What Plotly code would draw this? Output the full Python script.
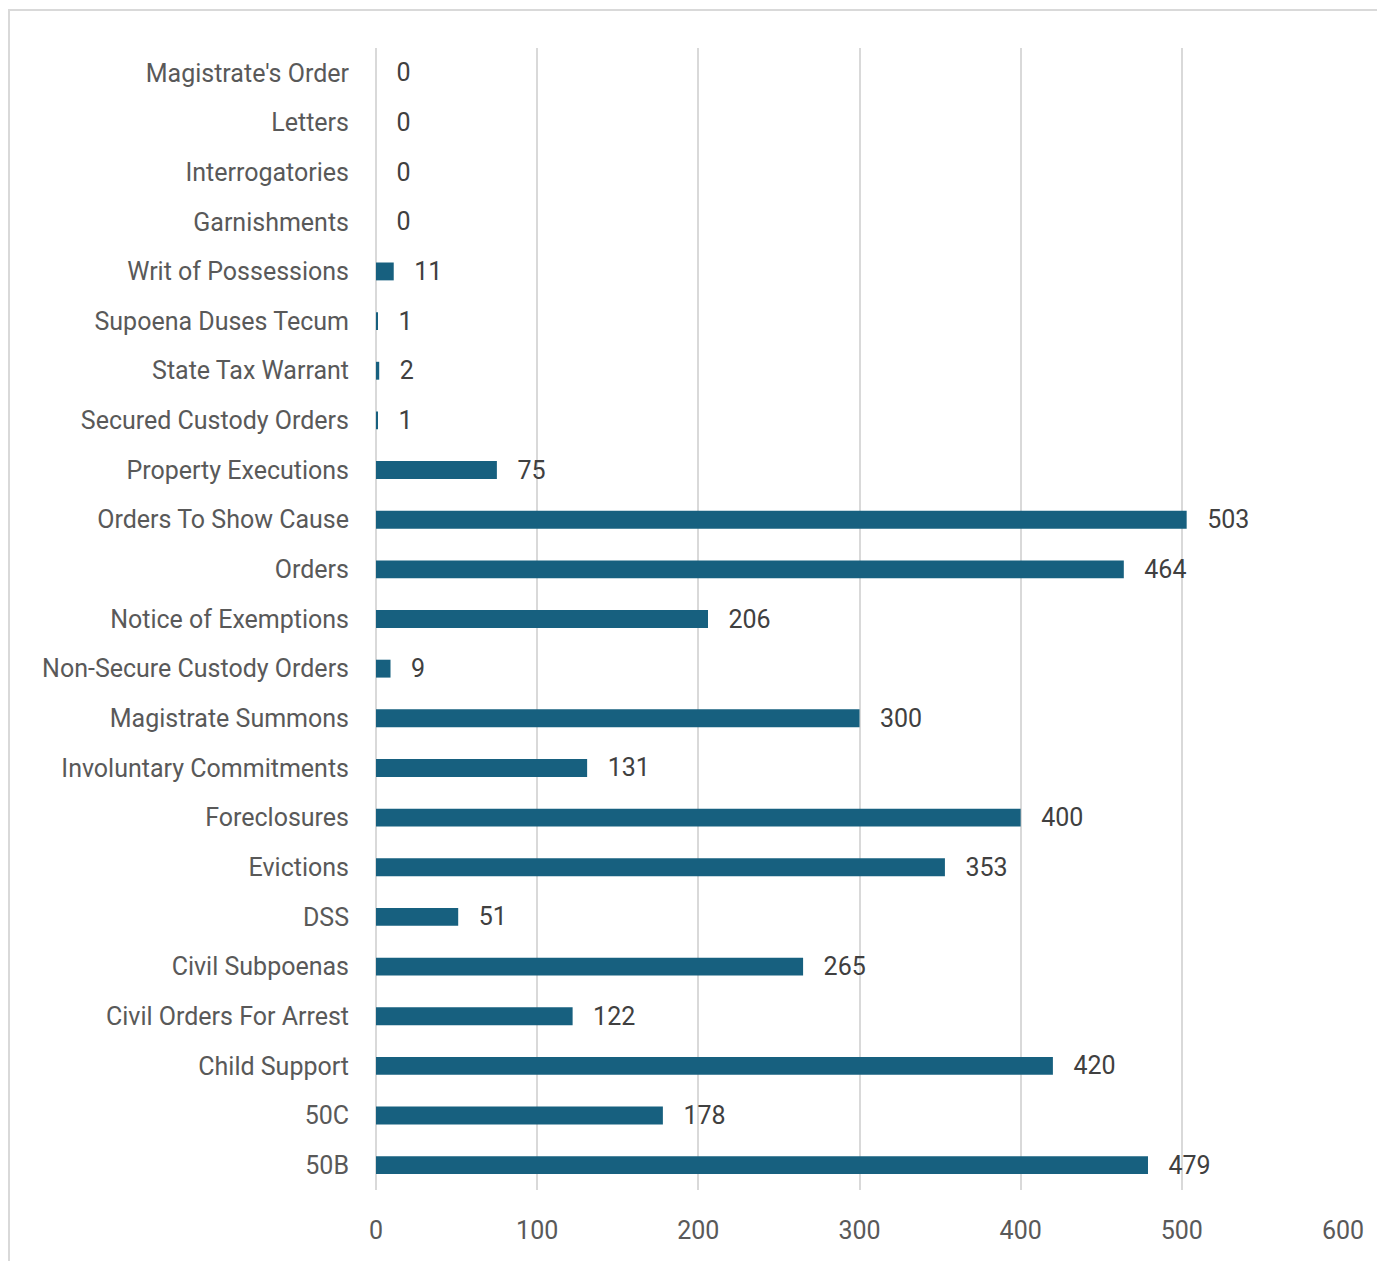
import plotly.graph_objects as go

categories = ["50B", "50C", "Child Support", "Civil Orders For Arrest", "Civil Subpoenas", "DSS",
              "Evictions", "Foreclosures", "Involuntary Commitments", "Magistrate Summons",
              "Non-Secure Custody Orders", "Notice of Exemptions", "Orders", "Orders To Show Cause",
              "Property Executions", "Secured Custody Orders", "State Tax Warrant",
              "Supoena Duses Tecum", "Writ of Possessions", "Garnishments", "Interrogatories",
              "Letters", "Magistrate's Order"]
values = [479, 178, 420, 122, 265, 51, 353, 400, 131, 300, 9, 206, 464, 503, 75, 1, 2, 1, 11, 0, 0, 0, 0]
x_ticks = [0, 100, 200, 300, 400, 500, 600]

W, H = 1385, 1261
L, T = 368, 40
pw, ph = 967, 1142
R, B = W - L - pw, H - T - ph

fig = go.Figure(go.Bar(
    x=values, y=categories, orientation="h",
    marker=dict(color="#17607F", line=dict(width=0)),
    width=0.36,
    text=[f"  \u2009{v}" for v in values],
    textposition="outside",
    constraintext="none",
    textfont=dict(family="Roboto", size=25, color="#404040"),
    cliponaxis=False,
    hoverinfo="skip",
))

fig.update_layout(
    width=W, height=H,
    margin=dict(l=L, r=R, t=T, b=B, pad=0),
    paper_bgcolor="white", plot_bgcolor="white",
    font=dict(family="Roboto", size=25, color="#595959"),
    showlegend=False,
    xaxis=dict(range=[0, 600], tickvals=x_ticks, showgrid=True, gridcolor="#D9D9D9", gridwidth=2,
               zeroline=True, zerolinecolor="#D9D9D9", zerolinewidth=2,
               showline=False, ticks="outside", ticklen=18, tickcolor="rgba(0,0,0,0)",
               tickfont=dict(family="Roboto", size=25, color="#595959"), fixedrange=True),
    yaxis=dict(categoryorder="array", categoryarray=categories, showgrid=False,
               showline=False, zeroline=False, ticks="outside", ticklen=21,
               tickcolor="rgba(0,0,0,0)", range=[-0.5, len(categories) - 0.5],
               tickfont=dict(family="Roboto", size=25, color="#595959"), fixedrange=True),
    shapes=[dict(type="rect", xref="paper", yref="paper",
                 x0=(1 - L) / pw, x1=(W + 40 - L) / pw,
                 y0=-(B + 40) / ph, y1=(ph + T - 2) / ph,
                 line=dict(color="#D9D9D9", width=2), fillcolor="rgba(0,0,0,0)", layer="below")],
)

fig.write_html("out.html")
